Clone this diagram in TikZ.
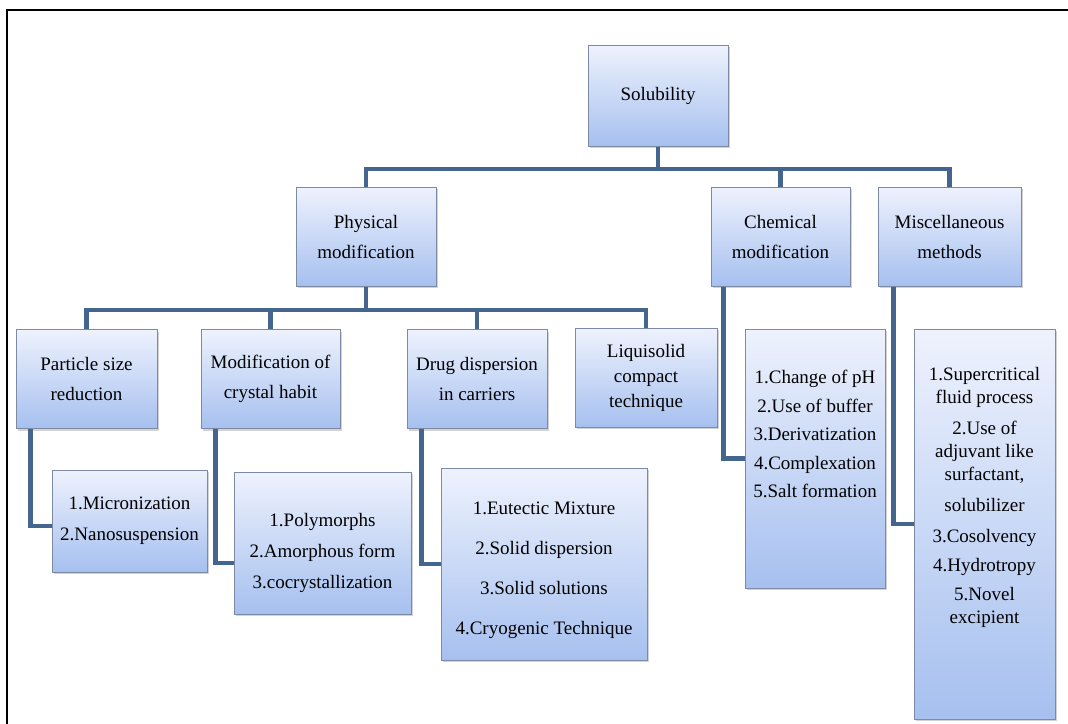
\documentclass[tikz,border=0pt]{standalone}
\usepackage{fontspec}
\setmainfont{Liberation Serif}
\usetikzlibrary{positioning,shadows}
\definecolor{linkblue}{HTML}{43658E}
\definecolor{boxedge}{HTML}{7D8AA3}
\definecolor{boxtop}{HTML}{EEF2FD}
\definecolor{boxbottom}{HTML}{A6C0EF}
\tikzset{
  box/.style={draw=boxedge,line width=1pt,top color=boxtop,bottom color=boxbottom,
    align=center,inner sep=0pt,font=\fontsize{19}{30}\selectfont,
    drop shadow={shadow xshift=2pt,shadow yshift=-2pt,opacity=0.35}},
  link/.style={draw=linkblue,line width=4.5pt},
}

\begin{document}
\begin{tikzpicture}[x=1pt,y=-1pt]
  \useasboundingbox (0,0) rectangle (1068,723);
  \draw[line width=1.5pt] (7,740) -- (7,10) -- (1080,10);
  % top and second level
  \node(sol)[box,minimum width=140,minimum height=101] at (658,95.5) {Solubility};
  \node(phys)[box,minimum width=140,minimum height=99] at (366,236.5) {Physical\\modification};
  \node(chem)[box,minimum width=139,minimum height=99] at (780.5,236.5) {Chemical\\modification};
  \node(misc)[box,minimum width=143,minimum height=99] at (949.5,236.5) {Miscellaneous\\methods};
  % physical branches
  \node(part)[box,minimum width=141,minimum height=99] at (86.5,379) {Particle size\\reduction};
  \node(habit)[box,minimum width=139,minimum height=99] at (270.5,379) {Modification of\\crystal habit};
  \node(disp)[box,minimum width=140,minimum height=99] at (477,379) {Drug dispersion\\in carriers};
  \node(liqui)[box,minimum width=142,minimum height=99,font=\fontsize{19}{25}\selectfont] at (646,377.5) {Liquisolid\\compact\\technique};
  % lists
  \node(micro)[box,minimum width=155,minimum height=102,font=\fontsize{19}{31}\selectfont] at (129.5,521) {1.Micronization\\2.Nanosuspension};
  \node(poly)[box,minimum width=177,minimum height=142,font=\fontsize{19}{31}\selectfont] at (322.5,543) {~\\[2pt]1.Polymorphs\\2.Amorphous form\\3.cocrystallization};
  \node(eutec)[box,minimum width=206,minimum height=192,font=\fontsize{19}{40}\selectfont] at (544,564) {~\\[-15pt]1.Eutectic Mixture\\2.Solid dispersion\\3.Solid solutions\\4.Cryogenic Technique};
  \node(chemlist)[box,minimum width=140,minimum height=259,font=\fontsize{19}{28.5}\selectfont] at (815,458.5) {1.Change of pH\\2.Use of buffer\\3.Derivatization\\4.Complexation\\5.Salt formation\\[20pt]~};
  \node(misclist)[box,minimum width=141,minimum height=390,font=\fontsize{19}{23}\selectfont] at (984.5,524) {1.Supercritical\\fluid process\\[8pt]2.Use of\\adjuvant like\\surfactant,\\[8pt]solubilizer\\[8pt]3.Cosolvency\\[6pt]4.Hydrotropy\\[6pt]5.Novel\\excipient\\[34pt]~};
  % connectors
  \coordinate(bara) at (0,169);
  \coordinate(barb) at (0,310);
  \draw[link] (sol.south) -- (sol.south |- bara);
  \draw[link] (phys.north) |- (misc.north |- bara) -- (misc.north);
  \draw[link] (chem.north) -- (chem.north |- bara);
  \draw[link] (phys.south) -- (phys.south |- barb);
  \draw[link] (part.north) |- (liqui.north |- barb) -- (liqui.north);
  \draw[link] (habit.north) -- (habit.north |- barb);
  \draw[link] (disp.north) -- (disp.north |- barb);
  \draw[link] ([xshift=15pt]part.south west) |- ([yshift=-5pt]micro.west);
  \draw[link] ([xshift=15pt]habit.south west) |- ([yshift=-20pt]poly.west);
  \draw[link] ([xshift=15pt]disp.south west) |- (eutec.west);
  \draw[link] ([xshift=13pt]chem.south west) |- (chemlist.west);
  \draw[link] ([xshift=16pt]misc.south west) |- (misclist.west);
\end{tikzpicture}
\end{document}
